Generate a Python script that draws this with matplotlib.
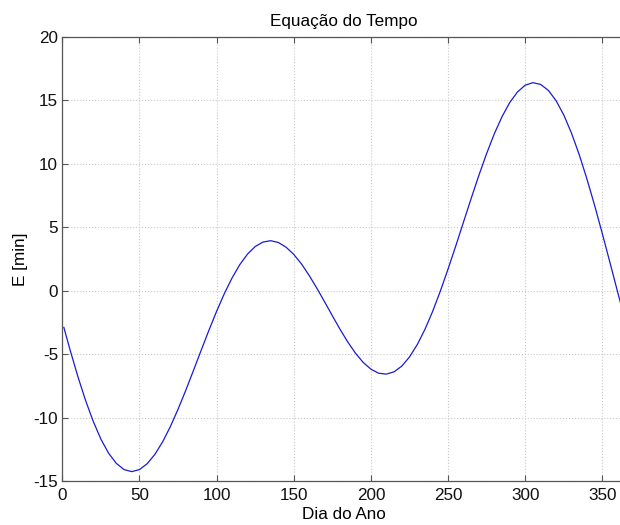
import matplotlib
matplotlib.use('Agg')
import matplotlib.pyplot as plt

# Equação do tempo ao longo do ano (minutos)
dias = [1, 5, 10, 15, 20, 25, 30, 35, 40, 45, 50, 55, 60, 65, 70, 75, 80, 85,
        90, 95, 100, 105, 110, 115, 120, 125, 130, 135, 140, 145, 150, 155,
        160, 165, 170, 175, 180, 185, 190, 195, 200, 205, 210, 215, 220, 225,
        230, 235, 240, 245, 250, 255, 260, 265, 270, 275, 280, 285, 290, 295,
        300, 305, 310, 315, 320, 325, 330, 335, 340, 345, 350, 355, 360, 365]
E = [-2.90, -4.66, -6.74, -8.63, -10.29, -11.70, -12.81, -13.61, -14.10,
     -14.26, -14.10, -13.64, -12.90, -11.92, -10.72, -9.35, -7.86, -6.29,
     -4.70, -3.13, -1.63, -0.24, 0.99, 2.04, 2.87, 3.47, 3.82, 3.93, 3.79,
     3.42, 2.85, 2.10, 1.19, 0.18, -0.89, -1.98, -3.05, -4.05, -4.93, -5.66,
     -6.19, -6.51, -6.58, -6.40, -5.95, -5.23, -4.26, -3.06, -1.64, -0.04,
     1.70, 3.52, 5.40, 7.27, 9.09, 10.80, 12.36, 13.71, 14.82, 15.65, 16.18,
     16.38, 16.24, 15.77, 14.96, 13.83, 12.40, 10.71, 8.79, 6.70, 4.47, 2.17,
     -0.16, -2.45]

xticks = [0, 50, 100, 150, 200, 250, 300, 350]
yticks = [-15, -10, -5, 0, 5, 10, 15, 20]

plt.rcParams['font.family'] = ['Liberation Sans', 'DejaVu Sans']
plt.rcParams['axes.unicode_minus'] = False

fig = plt.figure(figsize=(6.2, 5.25), dpi=100)
# o eixo vai um pouco além da borda direita da figura
ax = fig.add_axes([0.1005, 0.0838, 0.9084, 0.8463])

ax.plot(dias, E, color='#1a1ad6', linewidth=0.9)

ax.set_xlim(0, 365)
ax.set_ylim(-15, 20)
ax.set_xticks(xticks)
ax.set_yticks(yticks)
ax.tick_params(direction='in', length=4.5, width=0.8, top=True, right=True,
               labelsize=12.3, labelcolor='#111111', color='#555555')
ax.tick_params(axis='x', pad=5)
ax.tick_params(axis='y', pad=3)
for s in ax.spines.values():
    s.set_color('#555555')
    s.set_linewidth(0.9)

ax.grid(True, linestyle=':', color='#c8c8c8', linewidth=0.8)

ax.set_title('Equação do Tempo', fontsize=12.3, pad=8)
ax.set_xlabel('Dia do Ano', fontsize=12.3, labelpad=3)
ax.set_ylabel('E [min]', fontsize=12.3, labelpad=4)

fig.savefig('out.png', dpi=100)
